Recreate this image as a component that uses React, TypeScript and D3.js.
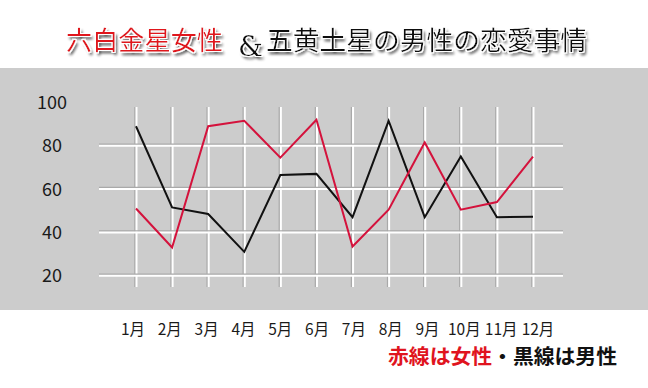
import * as React from "react";
import * as d3 from "d3";

const months = ["1月", "2月", "3月", "4月", "5月", "6月", "7月", "8月", "9月", "10月", "11月", "12月"];
const womenValues = [51, 33, 89, 91.5, 74.5, 92, 33.5, 50.5, 81.5, 50.5, 54, 75];
const menValues = [89, 51.5, 48.5, 31, 66.5, 67, 47, 91.5, 47, 75, 47, 47.2];
const yTicks = [20, 40, 60, 80, 100];
const gridTicks = [20, 40, 60, 80];

const W = 648;
const H = 388;
const font = "'Noto Sans CJK JP', 'Noto Sans', sans-serif";

export default function App() {
  const x = d3.scalePoint<string>().domain(months).range([136, 533]);
  const xLabel = d3.scalePoint<string>().domain(months).range([133, 538]);
  const y = d3.scaleLinear().domain([20, 100]).range([275.7, 102.4]);

  const line = d3
    .line<number>()
    .x((_, i) => x(months[i]) as number)
    .y((d) => y(d));

  return (
    <div style={{ position: "absolute", left: 0, top: 0 }}>
      <svg width={W} height={H} style={{ display: "block", background: "#fff" }}>
        <defs>
          <filter id="shadow" x="-10%" y="-30%" width="120%" height="170%">
            <feMorphology in="SourceAlpha" operator="dilate" radius="1" result="thick" />
            <feFlood floodColor="#ffffff" result="white" />
            <feComposite in="white" in2="thick" operator="in" result="outline" />
            <feGaussianBlur in="SourceAlpha" stdDeviation="1.8" result="blur" />
            <feOffset in="blur" dx="2" dy="3" result="off" />
            <feComponentTransfer in="off" result="soft">
              <feFuncA type="linear" slope="0.85" />
            </feComponentTransfer>
            <feMerge>
              <feMergeNode in="soft" />
              <feMergeNode in="outline" />
              <feMergeNode in="SourceGraphic" />
            </feMerge>
          </filter>
        </defs>

        {/* title */}
        <g filter="url(#shadow)" fontFamily={font}>
          <text x={66} y={50} fontSize={26} fill="#e0141e" textLength={157} lengthAdjust="spacingAndGlyphs">
            六白金星女性
          </text>
          <text x={238} y={56} fontSize={28} fill="#111" fontFamily="'DejaVu Serif', serif">
            &amp;
          </text>
          <text x={266} y={50} fontSize={26} fill="#111" textLength={321} lengthAdjust="spacingAndGlyphs">
            五黄土星の男性の恋愛事情
          </text>
        </g>

        <rect x={0} y={68} width={W} height={242} fill="#cccccc" />

        {/* grid */}
        <g>
          {months.map((m) => (
            <g key={m}>
              <line x1={(x(m) as number) - 1} x2={(x(m) as number) - 1} y1={107} y2={287} stroke="#a9a9a9" strokeWidth={1.5} />
              <line x1={(x(m) as number) + 0.5} x2={(x(m) as number) + 0.5} y1={107} y2={287} stroke="#fff" strokeWidth={2} />
            </g>
          ))}
          {gridTicks.map((t) => (
            <g key={t}>
              <line x1={99} x2={563} y1={y(t) - 1.5} y2={y(t) - 1.5} stroke="#a9a9a9" strokeWidth={1.5} />
              <line x1={99} x2={563} y1={y(t)} y2={y(t)} stroke="#fff" strokeWidth={2} />
            </g>
          ))}
        </g>

        {/* y labels */}
        <g fontFamily={font} fontSize={18} fill="#1a1a1a" textAnchor="middle">
          {yTicks.map((t) => (
            <text key={t} x={52} y={y(t) + 6.5}>
              {t}
            </text>
          ))}
        </g>

        {/* lines */}
        <path d={line(menValues) ?? ""} fill="none" stroke="#111" strokeWidth={2} strokeLinejoin="miter" />
        <path d={line(womenValues) ?? ""} fill="none" stroke="#d4123c" strokeWidth={2} strokeLinejoin="miter" />

        {/* month labels */}
        <g fontFamily={font} fontSize={15.5} fill="#1a1a1a" textAnchor="middle">
          {months.map((m) => (
            <text key={m} x={xLabel(m)} y={334.5}>
              {m}
            </text>
          ))}
        </g>

        {/* legend */}
        <text x={388} y={364} fontFamily={font} fontSize={20} fontWeight="bold" textLength={229} lengthAdjust="spacingAndGlyphs">
          <tspan fill="#e0141e">赤線は女性</tspan>
          <tspan fill="#111">・黒線は男性</tspan>
        </text>
      </svg>
    </div>
  );
}
